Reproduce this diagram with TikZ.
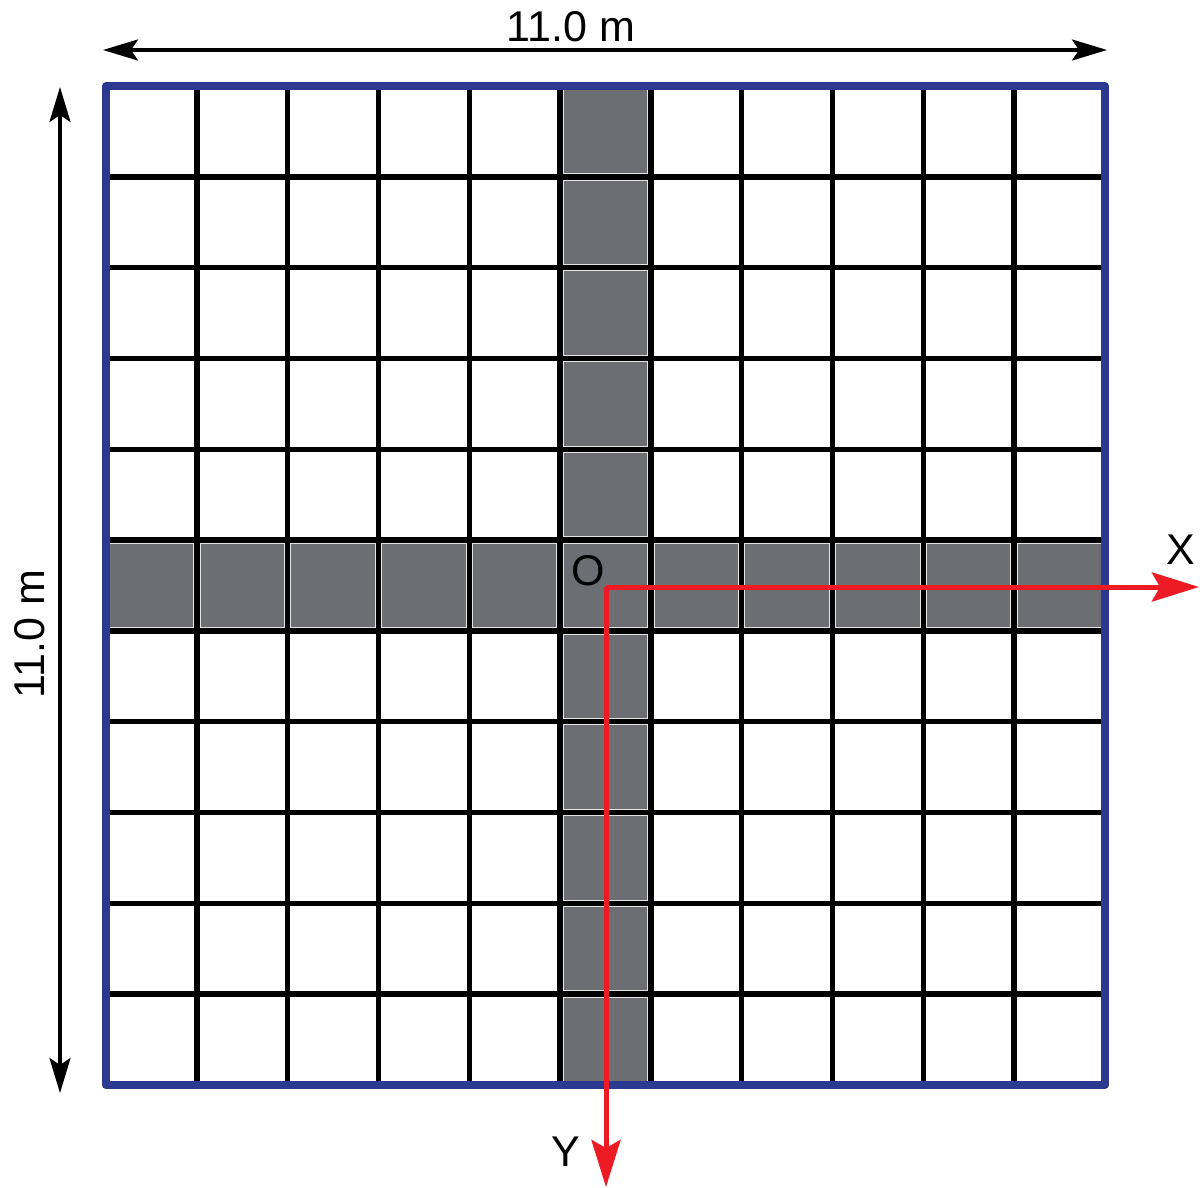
\documentclass[tikz,border=0pt]{standalone}
\usepackage{fontspec}
\setmainfont{Liberation Sans}
\usetikzlibrary{arrows.meta}
\definecolor{borderblue}{HTML}{2B3990}
\definecolor{axisred}{HTML}{ED1C24}
\definecolor{cellgrey}{HTML}{6D6E71}
\definecolor{celledge}{HTML}{E4E4E4}
\begin{document}
\begin{tikzpicture}[x=0.5pt,y=-0.5pt,
  gridline/.style={black,line width=2.7pt},
  greycell/.style={fill=cellgrey,draw=celledge,line width=0.5pt},
  borderline/.style={borderblue,line width=3.9pt,line join=round},
  axisline/.style={axisred,line width=2.5pt,-{Stealth[length=23.5pt,width=14.5pt,inset=4pt]}},
  dimline/.style={black,line width=1.7pt,{Stealth[length=17.5pt,width=10.5pt,inset=3.5pt]}-{Stealth[length=17.5pt,width=10.5pt,inset=3.5pt]}},
  lbl/.style={font=\fontsize{21.5}{25}\selectfont,inner sep=0pt}]
\useasboundingbox (0,0) rectangle (1200,1188);
\def\cs{90.818}
% grid lines
\foreach \k in {1,...,10}{
  \draw[gridline] ({106+\k*\cs},86) -- ({106+\k*\cs},1085);
  \draw[gridline] (106,{86+\k*\cs}) -- (1105,{86+\k*\cs});
}
% grey cross cells
\foreach \i in {0,...,10}{
  \fill[greycell] ({106+5*\cs+3.2},{86+\i*\cs+3.2}) rectangle ({106+6*\cs-3.2},{86+(\i+1)*\cs-3.2});
  \fill[greycell] ({106+\i*\cs+3.2},{86+5*\cs+3.2}) rectangle ({106+(\i+1)*\cs-3.2},{86+6*\cs-3.2});
  \draw[greycell,fill=none] ({106+5*\cs+3.2},{86+\i*\cs+3.2}) rectangle ({106+6*\cs-3.2},{86+(\i+1)*\cs-3.2});
  \draw[greycell,fill=none] ({106+\i*\cs+3.2},{86+5*\cs+3.2}) rectangle ({106+(\i+1)*\cs-3.2},{86+6*\cs-3.2});
}
% outer border
\draw[borderline] (106,86) rectangle (1105,1085);
% axes
\coordinate (O) at (606,587);
\coordinate (xend) at (1199,587);
\coordinate (yend) at (606,1187);
\draw[axisline] (O) -- (xend);
\draw[axisline] (O) -- (yend);
\node[lbl] (olabel) at (588,571) {O};
\node[lbl] (xlabel) at (1181,550) {X};
\node[lbl] (ylabel) at (566,1152) {Y};
% dimensions
\coordinate (dimtl) at (103,50);
\coordinate (dimtr) at (1107,50);
\coordinate (dimlt) at (60,87);
\coordinate (dimlb) at (60,1093);
\draw[dimline] (dimtl) -- (dimtr);
\draw[dimline] (dimlt) -- (dimlb);
\node[lbl] (toplabel) at (571,27) {11.0 m};
\node[lbl,rotate=90] (leftlabel) at (30,634) {11.0 m};
\end{tikzpicture}
\end{document}
